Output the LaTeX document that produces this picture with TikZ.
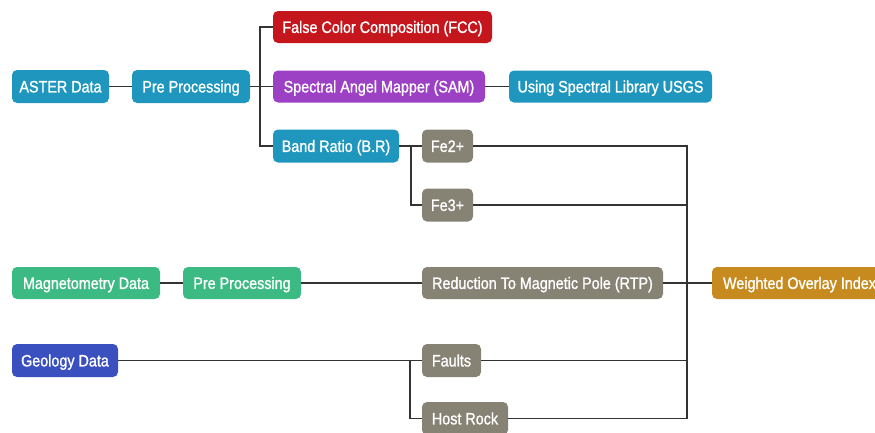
\documentclass[tikz,border=0pt]{standalone}
\usepackage{fontspec}
\setmainfont{Liberation Sans}[FakeStretch=0.87, FakeBold=1.2]
\begin{document}
\begin{tikzpicture}[x=1pt,y=-1pt,
  box/.style={rounded corners=5pt, draw=none, text=white, inner sep=0pt,
    font=\fontsize{16.5}{19}\selectfont, text height=11.8pt, text depth=0pt,
    anchor=center},
  link/.style={draw=black!80, line width=1.4pt}]
\definecolor{teal}{RGB}{30,150,190}
\definecolor{fccred}{RGB}{196,22,28}
\definecolor{sampurple}{RGB}{156,64,196}
\definecolor{stone}{RGB}{134,131,117}
\definecolor{mint}{RGB}{60,186,131}
\definecolor{indigo}{RGB}{58,80,190}
\definecolor{gold}{RGB}{198,138,30}
\useasboundingbox (0,0) rectangle (875,432);
\clip (0,0) rectangle (875,432);

% ASTER branch
\node[box, fill=teal, minimum width=97pt, minimum height=33pt] (aster) at (60.5,86.5) {ASTER Data};
\node[box, fill=teal, minimum width=118pt, minimum height=33pt] (pre1) at (191,86.5) {Pre Processing};
\node[box, fill=fccred, minimum width=219pt, minimum height=32pt] (fcc) at (382.5,27) {False Color Composition (FCC)};
\node[box, fill=sampurple, minimum width=212pt, minimum height=32pt] (sam) at (379,86.5) {Spectral Angel Mapper (SAM)};
\node[box, fill=teal, minimum width=203pt, minimum height=32pt] (usgs) at (610.5,86.5) {Using Spectral Library USGS};
\node[box, fill=teal, minimum width=126pt, minimum height=33pt] (br) at (336,146) {Band Ratio (B.R)};
\node[box, fill=stone, minimum width=51pt, minimum height=33pt] (fe2) at (447.5,146) {Fe2+};
\node[box, fill=stone, minimum width=51pt, minimum height=33pt] (fe3) at (447.5,205) {Fe3+};

% Magnetometry branch
\node[box, fill=mint, minimum width=148pt, minimum height=32pt] (mag) at (86,283) {Magnetometry Data};
\node[box, fill=mint, minimum width=118pt, minimum height=32pt] (pre2) at (242,283) {Pre Processing};
\node[box, fill=stone, minimum width=241pt, minimum height=32pt] (rtp) at (542.5,283) {Reduction To Magnetic Pole (RTP)};

% Geology branch
\node[box, fill=indigo, minimum width=106pt, minimum height=33pt] (geo) at (65,360.5) {Geology Data};
\node[box, fill=stone, minimum width=59pt, minimum height=33pt] (faults) at (451.5,360.5) {Faults};
\node[box, fill=stone, minimum width=86pt, minimum height=33pt] (hr) at (465,418.5) {Host Rock};

% Result (runs past the right edge)
\node[box, fill=gold, minimum width=175pt, minimum height=32pt] (woi) at (799.5,283) {Weighted Overlay Index\hspace{17pt}};

% Junction points
\coordinate (j1) at (260,86.5);
\coordinate (j2) at (411,146);
\coordinate (j3) at (410,360.5);
\coordinate (r1) at (687,146);
\coordinate (r2) at (687,205);
\coordinate (r3) at (687,360.5);
\coordinate (r4) at (687,418.5);

% Connectors
\draw[link] (aster) -- (pre1);
\draw[link] (pre1) -- (sam);
\draw[link] (j1) |- (fcc.west);
\draw[link] (j1) |- (br.west);
\draw[link] (sam) -- (usgs);
\draw[link] (br) -- (fe2);
\draw[link] (j2) |- (fe3.west);
\draw[link] (mag) -- (pre2);
\draw[link] (pre2) -- (rtp);
\draw[link] (rtp) -- (woi);
\draw[link] (geo) -- (faults);
\draw[link] (j3) |- (hr.west);
\draw[link] (fe2.east) -- (r1) -- (r4) -- (hr.east);
\draw[link] (fe3.east) -- (r2);
\draw[link] (faults.east) -- (r3);
\end{tikzpicture}
\end{document}
